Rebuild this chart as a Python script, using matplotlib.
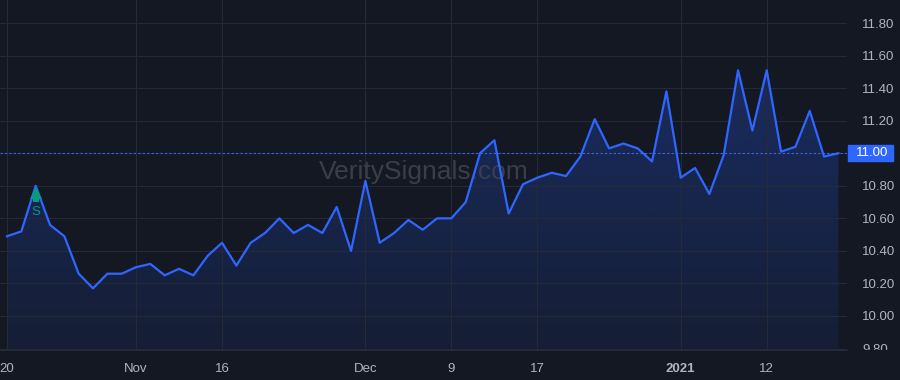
import matplotlib
matplotlib.use("Agg")
import matplotlib.pyplot as plt
import numpy as np
from matplotlib.patches import Rectangle

# closing values, one per bar
prices = [10.49, 10.52, 10.80, 10.56, 10.49, 10.26, 10.17, 10.26, 10.26, 10.30,
          10.32, 10.25, 10.29, 10.25, 10.37, 10.45, 10.31, 10.45, 10.51, 10.60,
          10.51, 10.56, 10.51, 10.67, 10.40, 10.83, 10.45, 10.51, 10.59, 10.53,
          10.60, 10.60, 10.70, 11.00, 11.08, 10.63, 10.81, 10.85, 10.88, 10.86,
          10.98, 11.21, 11.03, 11.06, 11.03, 10.95, 11.38, 10.85, 10.91, 10.75,
          10.99, 11.51, 11.14, 11.51, 11.01, 11.04, 11.26, 10.98, 11.00]

tick_bars = [0, 9, 15, 25, 31, 37, 47, 53]
tick_labels = ["20", "Nov", "16", "Dec", "9", "17", "2021", "12"]
price_ticks = [9.8, 10.0, 10.2, 10.4, 10.6, 10.8, 11.0, 11.2, 11.4, 11.6, 11.8]
signal_bar = 2
signal_text = "S"
last_price = prices[-1]

bg = "#141823"
grid = "#262a36"
blue = "#2f66ff"
green = "#089981"
txt = "#b2b5be"

plt.rcParams["font.family"] = ["Liberation Sans", "DejaVu Sans"]

fig = plt.figure(figsize=(9, 3.8), dpi=100, facecolor=bg)
ax = fig.add_axes([0, 30 / 380, 847 / 900, 350 / 380])
ax.set_facecolor(bg)

x = np.arange(len(prices))
ax.set_xlim(-0.49, 58.6)
ax.set_ylim(9.791, 11.942)

# gradient fill under the line
poly = ax.fill_between(x, prices, 9.791, color="none")
grad = np.linspace(0.28, 0.08, 256).reshape(-1, 1)
rgba = np.zeros((256, 1, 4))
rgba[..., 0] = 41 / 255
rgba[..., 1] = 98 / 255
rgba[..., 2] = 1.0
rgba[..., 3] = grad
img = ax.imshow(rgba, aspect="auto", extent=[-0.49, 58.6, 9.791, max(prices)],
                origin="upper", zorder=1)
img.set_clip_path(poly.get_paths()[0], transform=ax.transData)

ax.plot(x, prices, color=blue, lw=1.6, zorder=3)

# price line
ax.axhline(last_price, color=blue, lw=0.8, ls=(0, (2, 2)), zorder=2)

# signal marker: arrow head + shaft, then the letter
sy = prices[signal_bar]
ax.plot(signal_bar, sy - 0.043, marker="^", ms=8, color=green, mew=0, zorder=4)
ax.plot(signal_bar, sy - 0.08, marker="s", ms=4, color=green, mew=0, zorder=4)
ax.text(signal_bar, sy - 0.16, signal_text, color=green,
        fontsize=9.5, ha="center", va="center", zorder=4)

# watermark
ax.text(0.5, 0.51, "VeritySignals.com", transform=ax.transAxes, fontsize=19,
        color="#3a3e4a", ha="center", va="center", zorder=2)

ax.set_xticks(tick_bars)
ax.set_xticklabels(tick_labels)
for lbl in ax.get_xticklabels():
    if lbl.get_text() == "2021":
        lbl.set_fontweight("bold")
        lbl.set_color("#c8cad0")
ax.set_yticks(price_ticks)
ax.set_yticklabels(["%.2f" % v for v in price_ticks])
ax.yaxis.tick_right()
ax.tick_params(axis="both", length=0, colors=txt, labelsize=9.5)
ax.tick_params(axis="x", pad=9)
ax.tick_params(axis="y", pad=11)
ax.grid(True, color=grid, lw=0.8)
for s in ["top", "right", "left"]:
    ax.spines[s].set_visible(False)
ax.spines["bottom"].set_color(grid)

# hide the scale label under the 11.00 tag
for lbl in ax.get_yticklabels():
    if lbl.get_text() == "11.00":
        lbl.set_visible(False)

# price tag on the right scale
tag_y = ax.transData.transform((0, last_price))[1] / 380
fig.add_artist(Rectangle((848 / 900, tag_y - 8 / 380), 45 / 900, 16 / 380,
                         transform=fig.transFigure, color=blue, zorder=5))
fig.text(872 / 900, tag_y, "%.2f" % last_price, color="white", fontsize=9.5,
         ha="center", va="center", zorder=6)

# lower scale strip covers the bottom price label partly
fig.add_artist(Rectangle((848 / 900, 0), 52 / 900, 30 / 380,
                         transform=fig.transFigure, color=bg, zorder=5))

fig.savefig("out.png", dpi=100, facecolor=bg)
